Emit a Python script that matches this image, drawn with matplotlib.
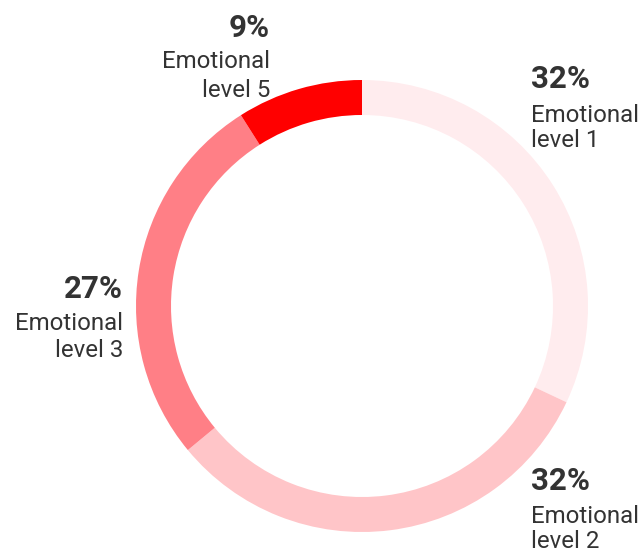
import matplotlib
matplotlib.use("Agg")
import matplotlib.pyplot as plt

plt.rcParams['font.family'] = ['Roboto', 'DejaVu Sans']

labels = ["Emotional\nlevel 1", "Emotional\nlevel 2", "Emotional\nlevel 3", "Emotional\nlevel 5"]
shares = [32, 32, 27, 9]
colors = ["#ffecee", "#ffc5c8", "#ff7f86", "#ff0000"]

W, H = 643, 555
fig = plt.figure(figsize=(W / 100, H / 100), dpi=100)
ax = fig.add_axes([0, 0, 1, 1])

cx, cy, r = 362, H - 306, 226
ax.pie(shares, colors=colors, startangle=90, counterclock=False,
       center=(cx, cy), radius=r, frame=True,
       wedgeprops=dict(width=35, linewidth=0))
ax.set_xlim(0, W)
ax.set_ylim(0, H)
ax.set_aspect("auto")
ax.axis("off")

# label anchor: x, alignment, baselines of percent / line 1 / line 2 (pixels from top)
label_pos = [
    (531, "left", 88, 122, 147),
    (531, "left", 490, 523, 548),
    (123, "right", 298, 330, 357),
    (270, "right", 37, 68, 97),
]
text_color = "#333333"
for lab, val, (x, ha, yp, y1, y2) in zip(labels, shares, label_pos):
    ax.text(x, H - yp, f"{val}%", ha=ha, va="baseline", fontsize=22.5,
            fontweight="bold", color=text_color)
    l1, l2 = lab.split("\n")
    ax.text(x, H - y1, l1, ha=ha, va="baseline", fontsize=17.3, color=text_color)
    ax.text(x, H - y2, l2, ha=ha, va="baseline", fontsize=17.3, color=text_color)

fig.savefig("out.png", dpi=100)
